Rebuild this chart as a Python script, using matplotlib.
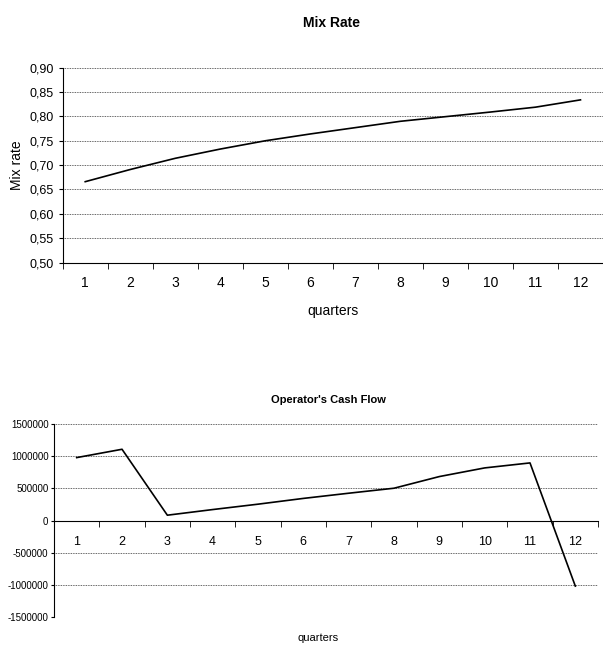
import matplotlib
matplotlib.use('Agg')
import matplotlib.pyplot as plt
import numpy as np

plt.rcParams['font.family'] = ['Liberation Sans Narrow', 'Liberation Sans', 'DejaVu Sans']

quarters = list(range(1, 13))
mix_rate = [0.666, 0.691, 0.714, 0.733, 0.750, 0.764, 0.777, 0.790, 0.7995, 0.809, 0.819, 0.834]
cash_flow = [982000, 1112000, 83000, 171000, 255000, 345000, 426000, 504000,
             686000, 821000, 899000, -1024000]

mix_ticks = np.arange(0.50, 0.901, 0.05)
cash_ticks = np.arange(-1500000, 1500001, 500000)


def style_axes(ax):
    ax.spines['top'].set_visible(False)
    ax.spines['right'].set_visible(False)
    ax.set_xlim(0.5, 12.5)
    ax.set_xticks(quarters)
    ax.set_xticks(np.arange(0.5, 13, 1), minor=True)
    ax.tick_params(axis='x', which='major', length=0, labelsize=10, pad=10)
    ax.tick_params(axis='x', which='minor', length=4, direction='out')
    ax.tick_params(axis='y', length=3, labelsize=9)
    ax.yaxis.grid(True, linestyle=(0, (1, 1)), color='#333333', linewidth=0.6)
    ax.set_axisbelow(True)


fig = plt.figure(figsize=(6.03, 6.45), dpi=100)

# Mix rate
ax1 = fig.add_axes([0.104, 0.593, 0.896, 0.302])
ax1.plot(quarters, mix_rate, color='black', linewidth=1.2)
style_axes(ax1)
ax1.set_ylim(0.50, 0.90)
ax1.set_yticks(mix_ticks)
ax1.set_yticklabels([('%.2f' % v).replace('.', ',') for v in mix_ticks])
ax1.set_ylabel('Mix rate', fontsize=10, labelpad=4)
ax1.set_xlabel('quarters', fontsize=10, labelpad=10)
fig.text(0.55, 0.965, 'Mix Rate', ha='center', va='center', fontsize=10, fontweight='bold')

# Operator's cash flow
ax2 = fig.add_axes([0.0896, 0.044, 0.9021, 0.298])
ax2.plot(quarters, cash_flow, color='black', linewidth=1.2)
style_axes(ax2)
ax2.set_ylim(-1500000, 1500000)
ax2.set_yticks(cash_ticks)
ax2.set_yticklabels(['%d' % v for v in cash_ticks])
ax2.spines['bottom'].set_position(('data', 0))
ax2.tick_params(axis='x', which='major', labelsize=9, pad=11)
ax2.tick_params(axis='y', labelsize=7, pad=2, length=2)
fig.text(0.528, 0.011, 'quarters', ha='center', va='center', fontsize=8)
fig.text(0.545, 0.38, "Operator's Cash Flow", ha='center', va='center', fontsize=8, fontweight='bold')

fig.savefig('out.png', dpi=100)
